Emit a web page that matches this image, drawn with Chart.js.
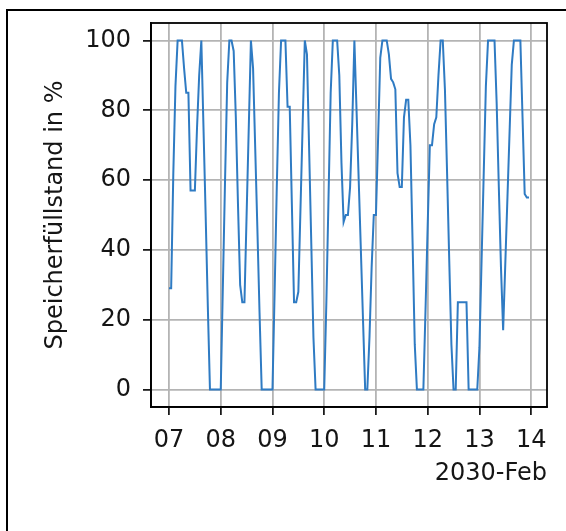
<!DOCTYPE html>
<html lang="de">
<head>
<meta charset="UTF-8">
<title>Speicherfüllstand</title>
<style>
  html, body { margin: 0; padding: 0; background: #fff; }
  #frame { position: absolute; left: 6px; top: 9px; width: 600px; height: 600px;
           border-left: 2px solid #000; border-top: 2px solid #000; }
  #wrap { position: absolute; left: 0; top: 0; width: 566px; height: 531px; }
</style>
</head>
<body>
<div id="frame"></div>
<div id="wrap"><canvas id="grafica" width="566" height="531"></canvas></div>

<script src="https://cdn.jsdelivr.net/npm/chart.js"></script>
<script>
// Speicherfüllstand in %, stündlich, 07.02.2030 00:00 bis 13.02.2030 23:00
const feb07 = [29, 29, 62, 87, 100, 100, 100, 92, 85, 85, 57, 57, 57, 75, 90, 100, 75, 50, 24, 0, 0, 0, 0, 0];
const feb08 = [0, 30, 60, 88, 100, 100, 97, 78, 53, 30, 25, 25, 50, 75, 100, 92, 69, 46, 22, 0, 0, 0, 0, 0];
const feb09 = [0, 28, 58, 85, 100, 100, 100, 81, 81, 53, 25, 25, 28, 52, 76, 100, 96, 69, 42, 15, 0, 0, 0, 0];
const feb10 = [0, 25, 55, 85, 100, 100, 100, 90, 65, 48, 50, 50, 58, 76, 100, 80, 60, 40, 20, 0, 0, 15, 35, 50];
const feb11 = [50, 72, 95, 100, 100, 100, 96, 89, 88, 86, 62, 58, 58, 78, 83, 83, 70, 42, 13, 0, 0, 0, 0, 23];
const feb12 = [47, 70, 70, 76, 78, 90, 100, 100, 86, 62, 37, 13, 0, 0, 25, 25, 25, 25, 25, 0, 0, 0, 0, 0];
const feb13 = [12, 37, 62, 87, 100, 100, 100, 100, 82, 58, 35, 17, 36, 55, 74, 93, 100, 100, 100, 100, 78, 56, 55, 55];

const dayLabels = ['07', '08', '09', '10', '11', '12', '13', '14'];
const yTicks = [0, 20, 40, 60, 80, 100];

const fuell = [].concat(feb07, feb08, feb09, feb10, feb11, feb12, feb13);
const punkte = fuell.map((v, i) => ({ x: i, y: v }));

const schrift = "'DejaVu Sans', sans-serif";
const gitter = '#b4b4b4';

// Rahmen um die Zeichenfläche
const rahmen = {
  id: 'rahmen',
  afterDraw(chart) {
    const a = chart.chartArea;
    const ctx = chart.ctx;
    ctx.save();
    ctx.strokeStyle = '#000';
    ctx.lineWidth = 1.8;
    ctx.strokeRect(a.left, a.top, a.right - a.left, a.bottom - a.top);
    ctx.restore();
  }
};

const ctx = document.getElementById('grafica').getContext('2d');
const myChart = new Chart(ctx, {
  type: 'line',
  data: {
    datasets: [{
      data: punkte,
      borderColor: '#2f7bc3',
      borderWidth: 2,
      pointRadius: 0,
      tension: 0,
      fill: false
    }]
  },
  options: {
    responsive: false,
    animation: false,
    layout: { padding: { left: 0, top: 23, right: 19, bottom: 42 } },
    plugins: { legend: { display: false }, tooltip: { enabled: false } },
    scales: {
      x: {
        type: 'linear',
        min: -8.35,
        max: 175.35,
        afterBuildTicks: s => { s.ticks = dayLabels.map((d, i) => ({ value: i * 24 })); },
        afterFit: s => { s.height = 82; s.paddingLeft = 0; s.paddingRight = 0; },
        ticks: {
          callback: v => dayLabels[Math.round(v / 24)],
          color: '#151515',
          font: { family: schrift, size: 24 },
          padding: 11,
          maxRotation: 0,
          autoSkip: false
        },
        grid: { color: gitter, lineWidth: 1.8, tickLength: 8, tickColor: '#000', tickWidth: 1.6 },
        border: { color: '#000', width: 1.8 },
        title: {
          display: true,
          text: '2030-Feb',
          align: 'end',
          color: '#151515',
          font: { family: schrift, size: 24 },
          padding: { top: 0, bottom: 1 }
        }
      },
      y: {
        min: -5,
        max: 105,
        afterBuildTicks: s => { s.ticks = yTicks.map(v => ({ value: v })); },
        afterFit: s => { s.width = 151; s.paddingTop = 0; s.paddingBottom = 0; },
        ticks: {
          callback: v => String(v),
          color: '#151515',
          font: { family: schrift, size: 24 },
          padding: 12
        },
        grid: { color: gitter, lineWidth: 1.8, tickLength: 8, tickColor: '#000', tickWidth: 1.6 },
        border: { color: '#000', width: 1.8 },
        title: {
          display: true,
          text: 'Speicherfüllstand in %',
          color: '#151515',
          font: { family: schrift, size: 24 },
          padding: { top: 41, bottom: 0 }
        }
      }
    }
  },
  plugins: [rahmen]
});
</script>
</body>
</html>
